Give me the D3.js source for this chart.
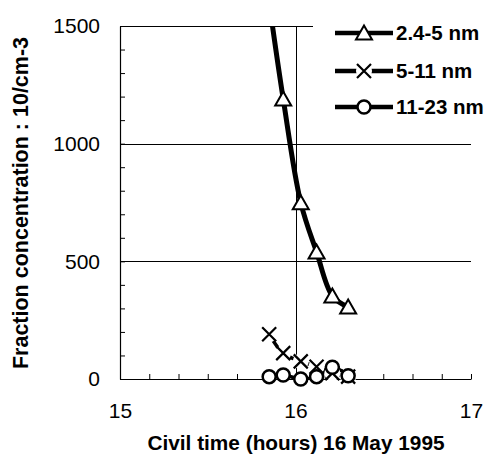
<!DOCTYPE html>
<head>
  <meta charset="utf-8" />
  <script src="https://d3js.org/d3.v7.min.js"></script>
  <style>
    body {
      margin: 0;
      background: #fff;
    }
    text {
      font-family: Arial, "Liberation Sans", sans-serif;
      fill: #000;
    }
  </style>
</head>

<body>
  <script>
    // data
    var hours = [15.85, 15.93, 16.03, 16.12, 16.21, 16.3];
    var fraction_2_5 = [1600, 1190, 749, 540, 353, 306];
    var fraction_5_11 = [190, 110, 75, 52, 25, 10];
    var fraction_11_23 = [10, 17, 0, 10, 50, 14];
    var seriesNames = ["2.4-5 nm", "5-11 nm", "11-23 nm"];
    var yLabels = [0, 500, 1000, 1500];
    var xLabels = [15, 16, 17];

    var width = 487,
      height = 455;

    var svg = d3
      .select("body")
      .append("svg")
      .attr("width", width)
      .attr("height", height);

    var x = d3.scaleLinear().domain([15, 17]).range([120, 471]);
    var y = d3.scaleLinear().domain([0, 1500]).range([379, 26]);

    svg
      .append("clipPath")
      .attr("id", "plot")
      .append("rect")
      .attr("x", x(15))
      .attr("y", y(1500))
      .attr("width", x(17) - x(15))
      .attr("height", y(0) - y(1500));

    // grid
    var grid = svg.append("g").attr("stroke", "#000").attr("stroke-width", 1);
    grid
      .selectAll(".hg")
      .data([500, 1000, 1500])
      .join("line")
      .attr("x1", x(15))
      .attr("x2", x(17))
      .attr("y1", (d) => Math.round(y(d)) + 0.5)
      .attr("y2", (d) => Math.round(y(d)) + 0.5);
    grid
      .append("line")
      .attr("x1", Math.round(x(16)) + 0.5)
      .attr("x2", Math.round(x(16)) + 0.5)
      .attr("y1", y(1500))
      .attr("y2", y(0));

    // axes (minor ticks point inward)
    var yTicks = d3.range(0, 1501, 100);
    var yAxis = d3
      .axisLeft(y)
      .tickValues(yTicks)
      .tickSizeInner(-5)
      .tickSizeOuter(0)
      .tickPadding(20)
      .tickFormat((d) => (yLabels.indexOf(d) >= 0 ? d : ""));
    var gy = svg
      .append("g")
      .attr("transform", "translate(" + x(15) + ",0)")
      .call(yAxis);

    var xTicks = d3.range(0, 13).map((k) => 15 + k / 6);
    var xAxis = d3
      .axisBottom(x)
      .tickValues(xTicks)
      .tickSizeInner(-5)
      .tickSizeOuter(0)
      .tickPadding(24)
      .tickFormat((d) =>
        xLabels.indexOf(Math.round(d * 1000) / 1000) >= 0 ? Math.round(d) : ""
      );
    var gx = svg
      .append("g")
      .attr("transform", "translate(0," + y(0) + ")")
      .call(xAxis);

    [gx, gy].forEach(function (g) {
      g.selectAll("path").attr("stroke", "#000").attr("stroke-width", 1.2);
      g.selectAll("line").attr("stroke", "#000");
      g.selectAll("text")
        .style("font-size", "21px")
        .style("font-family", "Arial, 'Liberation Sans', sans-serif");
    });

    // axis titles
    svg
      .append("text")
      .attr("x", 296)
      .attr("y", 450)
      .attr("text-anchor", "middle")
      .style("font-size", "20.8px")
      .style("font-weight", "bold")
      .text("Civil time (hours) 16 May 1995");

    svg
      .append("text")
      .attr("transform", "translate(28,203) rotate(-90)")
      .attr("text-anchor", "middle")
      .style("font-size", "21.5px")
      .style("font-weight", "bold")
      .text("Fraction concentration : 10/cm-3");

    // series
    var line = d3
      .line()
      .x((d) => x(d[0]))
      .y((d) => y(d[1]))
      .curve(d3.curveCatmullRom.alpha(0.5));

    var allSeries = [fraction_2_5, fraction_5_11, fraction_11_23].map((vals) =>
      hours.map((h, i) => [h, vals[i]])
    );

    var plot = svg.append("g").attr("clip-path", "url(#plot)");

    allSeries.forEach(function (pts, i) {
      plot
        .append("path")
        .attr("d", line(pts))
        .attr("fill", "none")
        .attr("stroke", "#000")
        .attr("stroke-width", i == 0 ? 5 : 3.5);
    });

    function marker(g, kind, cx, cy) {
      if (kind == 0) {
        g.append("path")
          .attr(
            "d",
            "M" + (cx - 8) + "," + (cy + 6.5) + "L" + cx + "," + (cy - 7.5) +
              "L" + (cx + 8) + "," + (cy + 6.5) + "Z"
          )
          .attr("fill", "#fff")
          .attr("stroke", "#000")
          .attr("stroke-width", 2);
      } else if (kind == 1) {
        g.append("circle")
          .attr("cx", cx)
          .attr("cy", cy)
          .attr("r", 8)
          .attr("fill", "#fff");
        g.append("path")
          .attr(
            "d",
            "M" + (cx - 7) + "," + (cy - 7) + "L" + (cx + 7) + "," + (cy + 7) +
              "M" + (cx - 7) + "," + (cy + 7) + "L" + (cx + 7) + "," + (cy - 7)
          )
          .attr("stroke", "#000")
          .attr("stroke-width", 2.2);
      } else {
        g.append("circle")
          .attr("cx", cx)
          .attr("cy", cy)
          .attr("r", 6.5)
          .attr("fill", "#fff")
          .attr("stroke", "#000")
          .attr("stroke-width", 2.5);
      }
    }

    var marks = svg.append("g");
    // X first, then circles, then triangles on top
    [1, 2, 0].forEach(function (i) {
      allSeries[i].forEach(function (p) {
        if (p[1] <= 1500) marker(marks, i, x(p[0]), y(p[1]));
      });
    });

    // legend
    svg
      .append("rect")
      .attr("x", 313)
      .attr("y", 0)
      .attr("width", width - 313)
      .attr("height", 122)
      .attr("fill", "#fff");

    var legendY = [33, 71, 107];
    seriesNames.forEach(function (name, i) {
      var g = svg.append("g");
      g.append("line")
        .attr("x1", 335)
        .attr("x2", 393)
        .attr("y1", legendY[i])
        .attr("y2", legendY[i])
        .attr("stroke", "#000")
        .attr("stroke-width", 4.5);
      marker(g, i, 364, legendY[i]);
      g.append("text")
        .attr("x", 396)
        .attr("y", legendY[i])
        .attr("dy", "0.36em")
        .style("font-size", "20.5px")
        .style("font-weight", "bold")
        .text(name);
    });
  </script>
</body>
